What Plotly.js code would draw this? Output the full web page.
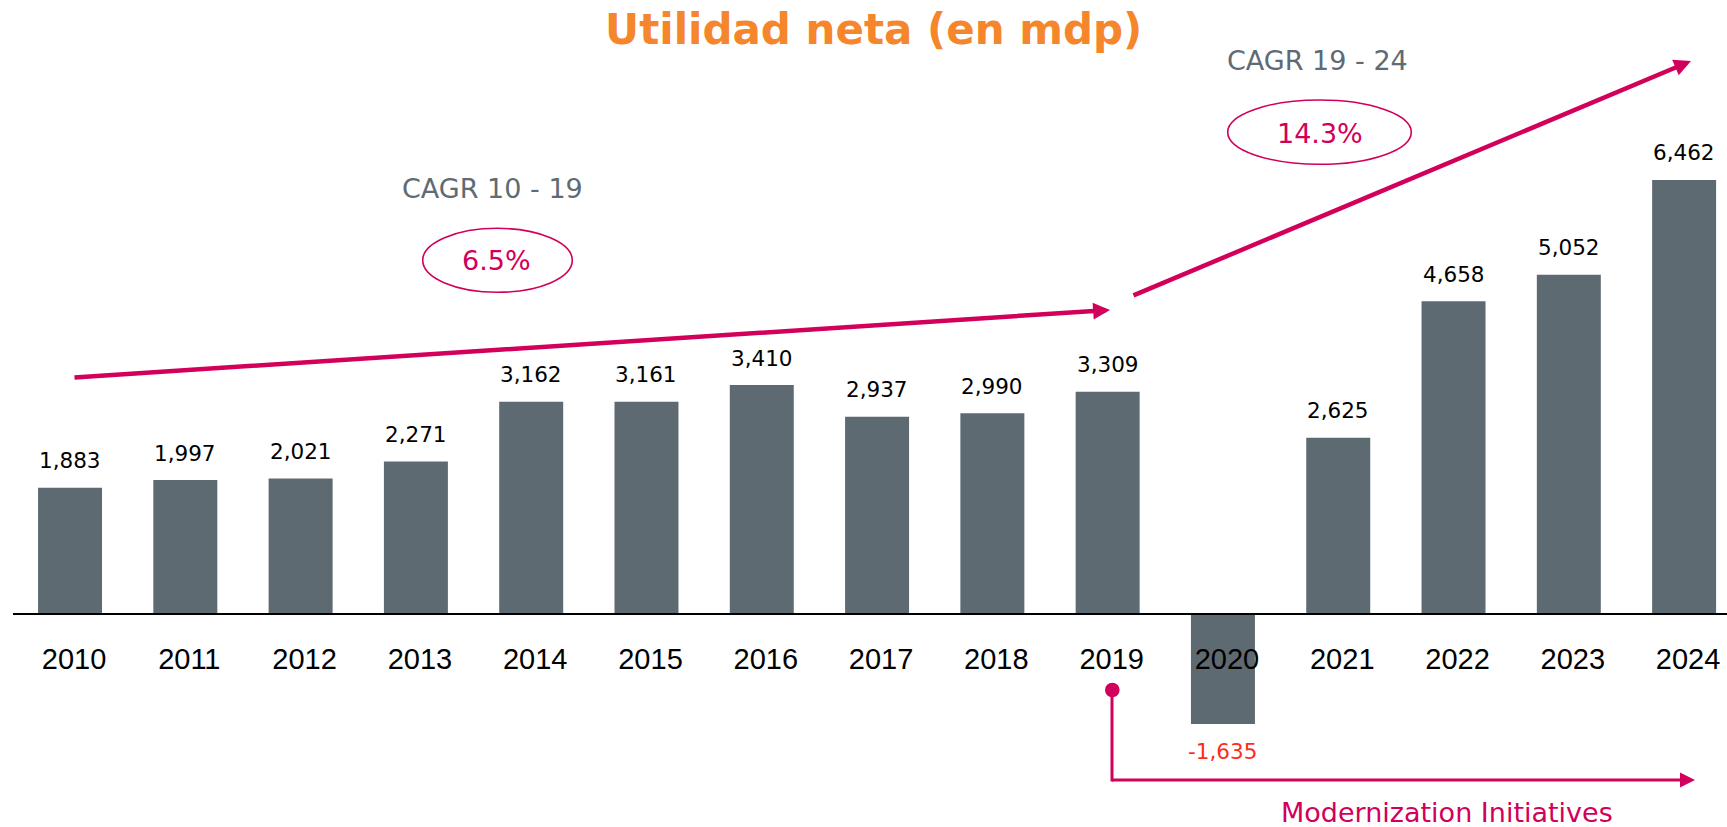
<!DOCTYPE html>
<html>
<head>
<meta charset="utf-8">
<script src="https://cdn.plot.ly/plotly-3.0.1.min.js"></script>
<style>html,body{margin:0;padding:0;background:#fff;}#chart{width:1727px;height:827px;}</style>
</head>
<body>
<div id="chart"></div>
<script>
// ---- data ----
const years = [2010, 2011, 2012, 2013, 2014, 2015, 2016, 2017, 2018, 2019, 2020, 2021, 2022, 2023, 2024];
const yearLabels = ["2010","2011","2012","2013","2014","2015","2016","2017","2018","2019","2020","2021","2022","2023","2024"];
const netIncome = [1883, 1997, 2021, 2271, 3162, 3161, 3410, 2937, 2990, 3309, -1635, 2625, 4658, 5052, 6462];
const titleText = "Utilidad neta (en mdp)";
const cagrLabels = ["CAGR 10 - 19", "CAGR 19 - 24"];
const cagrValues = ["6.5%", "14.3%"];
const initiativeText = "Modernization Initiatives";

// ---- styles ----
const W = 1727, H = 827;
const PX = x => x / W;
const PY = y => 1 - y / H;
const BAR = "#5E6A72";
const CRIMSON = "#D2005A";
const GREY = "#5F6B73";
const ORANGE = "#F5862B";
const NEG = "#FF2B1C";
const FONT = "DejaVu Sans, Verdana, sans-serif";

const fmt = v => v.toLocaleString("en-US");

const trace = {
  type: "bar",
  x: years,
  y: netIncome,
  width: years.map(() => 0.555),
  marker: {color: BAR},
  hoverinfo: "x+y"
};

const annotations = [];
years.forEach((yr, i) => {
  const v = netIncome[i];
  annotations.push({
    x: yr, y: v, xref: "x", yref: "y",
    text: fmt(v), showarrow: false,
    xanchor: "center", yanchor: "middle",
    yshift: v >= 0 ? 27 : -27.5,
    font: {family: FONT, size: 21.5, color: v >= 0 ? "#000000" : NEG}
  });
});

function txt(x, y, t, size, color) {
  return {x: PX(x), y: PY(y), xref: "paper", yref: "paper", text: t, showarrow: false,
    xanchor: "center", yanchor: "middle", font: {family: FONT, size: size, color: color}};
}
annotations.push(txt(492, 188.3, cagrLabels[0], 27, GREY));
annotations.push(txt(496.7, 260.7, cagrValues[0], 27, CRIMSON));
annotations.push(txt(1317.5, 60.8, cagrLabels[1], 27, GREY));
annotations.push(txt(1319.5, 133, cagrValues[1], 27, CRIMSON));
annotations.push(txt(1446.5, 812.5, initiativeText, 27, CRIMSON));

function arrow(tx, ty, sx, sy, w, size) {
  return {x: PX(tx), y: PY(ty), xref: "paper", yref: "paper", text: "", showarrow: true,
    ax: sx - tx, ay: sy - ty, axref: "pixel", ayref: "pixel",
    arrowhead: 2, arrowsize: size, arrowwidth: w, arrowcolor: CRIMSON, standoff: 0, startstandoff: 0};
}
annotations.push(arrow(1110, 310, 73, 377.5, 4.5, 0.75));
annotations.push(arrow(1691, 61, 1132, 296, 4.5, 0.75));
annotations.push(arrow(1695, 780, 1110.5, 780, 3, 1));

const shapes = [
  {type: "circle", xref: "paper", yref: "paper", x0: PX(422.7), x1: PX(572.3), y0: PY(292.3), y1: PY(228.3),
   line: {color: CRIMSON, width: 1.6}, fillcolor: "rgba(0,0,0,0)"},
  {type: "circle", xref: "paper", yref: "paper", x0: PX(1227.7), x1: PX(1411.3), y0: PY(164.3), y1: PY(100),
   line: {color: CRIMSON, width: 1.6}, fillcolor: "rgba(0,0,0,0)"},
  {type: "line", xref: "paper", yref: "paper", x0: PX(1112), x1: PX(1112), y0: PY(690), y1: PY(781.5),
   line: {color: CRIMSON, width: 3}},
  {type: "circle", xref: "paper", yref: "paper", x0: PX(1105), x1: PX(1119.6), y0: PY(697.3), y1: PY(682.7),
   line: {color: CRIMSON, width: 0}, fillcolor: CRIMSON}
];

const layout = {
  width: W, height: H,
  margin: {l: 0, r: 0, t: 0, b: 0, pad: 0},
  paper_bgcolor: "#ffffff", plot_bgcolor: "#ffffff",
  showlegend: false,
  title: {text: "<b>" + titleText + "</b>", font: {family: FONT, size: 42, color: ORANGE},
          x: 873.7 / W, xanchor: "center", y: PY(28.8), yanchor: "middle", yref: "container"},
  xaxis: {
    type: "linear", range: [2009.501, 2024.372], domain: [12.5 / W, 1],
    anchor: "free", position: PY(614.2),
    showline: true, linecolor: "#000000", linewidth: 2,
    showgrid: false, zeroline: false,
    tickmode: "array", tickvals: years, ticktext: yearLabels,
    ticks: "", ticklabelstandoff: 19, ticklabelshift: 4,
    tickfont: {family: "Liberation Sans, Arial, sans-serif", size: 29, color: "#000000"},
    fixedrange: true
  },
  yaxis: {
    range: [-3166.7, 9139.9], domain: [0, 1],
    visible: false, showgrid: false, zeroline: false, fixedrange: true
  },
  shapes: shapes,
  annotations: annotations
};

Plotly.newPlot("chart", [trace], layout, {displayModeBar: false, staticPlot: true});
</script>
</body>
</html>
